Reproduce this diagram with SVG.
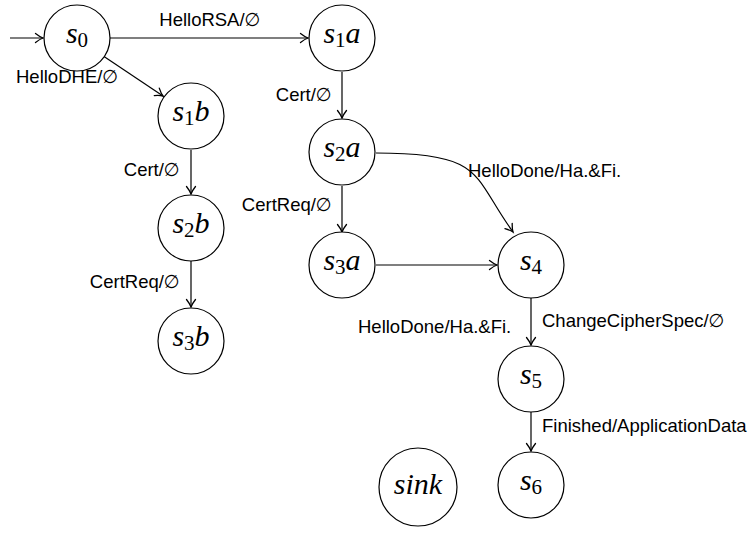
<svg xmlns="http://www.w3.org/2000/svg" width="751" height="533" viewBox="0 0 751 533">
<style>
.node circle{fill:#fff;stroke:#000;stroke-width:1.2}
.nl{font-family:"Liberation Serif","Times New Roman",serif;font-style:italic;font-size:30px;fill:#000}
.sub{font-style:normal;font-size:21px}
.edge{fill:none;stroke:#000;stroke-width:1.2;marker-end:url(#arr)}
.lbl{font-family:"Liberation Sans",Arial,"DejaVu Sans",sans-serif;font-size:18.5px;fill:#000}
</style>
<defs>
<marker id="arr" markerUnits="userSpaceOnUse" markerWidth="14" markerHeight="14" viewBox="0 0 14 14" refX="11" refY="7" orient="auto">
<path d="M3.5,2.5 Q8,6 11,7 Q8,8 3.5,11.5" fill="none" stroke="#000" stroke-width="1.3" stroke-linecap="round"/>
</marker>
</defs>
<g id="connectors">
<path class="edge" d="M10,38 L43,38"/>
<path class="edge" d="M110,38 L308,38"/>
<path class="edge" d="M104,56.5 L163,96"/>
<path class="edge" d="M342,72 L342,118"/>
<path class="edge" d="M191,150 L191,194"/>
<path class="edge" d="M191,261 L191,307"/>
<path class="edge" d="M342,186 L342,232"/>
<path class="edge" d="M376,153 C486,153 471.7,175.3 513,232"/>
<path class="edge" d="M376,265 L497,265"/>
<path class="edge" d="M531,298 L531,345"/>
<path class="edge" d="M531,412 L531,451"/>
</g>
<g id="labels">
<text class="lbl" x="210" y="26" text-anchor="middle">HelloRSA/∅</text>
<text class="lbl" x="16" y="83">HelloDHE/∅</text>
<text class="lbl" x="332" y="101" text-anchor="end">Cert/∅</text>
<text class="lbl" x="180" y="176" text-anchor="end">Cert/∅</text>
<text class="lbl" x="332" y="211" text-anchor="end">CertReq/∅</text>
<text class="lbl" x="180" y="288" text-anchor="end">CertReq/∅</text>
<text class="lbl" x="468" y="177">HelloDone/Ha.&amp;Fi.</text>
<text class="lbl" x="358" y="333">HelloDone/Ha.&amp;Fi.</text>
<text class="lbl" x="542" y="327">ChangeCipherSpec/∅</text>
<text class="lbl" x="542" y="432">Finished/ApplicationData</text>
</g>
<g id="s0" class="node"><circle cx="77" cy="38" r="33"/><text class="nl" x="77" y="43" text-anchor="middle">s<tspan class="sub" dy="4">0</tspan></text></g>
<g id="s1a" class="node"><circle cx="342" cy="38" r="33"/><text class="nl" x="342" y="43" text-anchor="middle">s<tspan class="sub" dy="4">1</tspan><tspan dy="-4">a</tspan></text></g>
<g id="s1b" class="node"><circle cx="191" cy="116" r="33"/><text class="nl" x="191" y="121" text-anchor="middle">s<tspan class="sub" dy="4">1</tspan><tspan dy="-4">b</tspan></text></g>
<g id="s2a" class="node"><circle cx="342" cy="152" r="33"/><text class="nl" x="342" y="157" text-anchor="middle">s<tspan class="sub" dy="4">2</tspan><tspan dy="-4">a</tspan></text></g>
<g id="s2b" class="node"><circle cx="191" cy="228" r="33"/><text class="nl" x="191" y="233" text-anchor="middle">s<tspan class="sub" dy="4">2</tspan><tspan dy="-4">b</tspan></text></g>
<g id="s3a" class="node"><circle cx="342" cy="265" r="33"/><text class="nl" x="342" y="270" text-anchor="middle">s<tspan class="sub" dy="4">3</tspan><tspan dy="-4">a</tspan></text></g>
<g id="s3b" class="node"><circle cx="191" cy="341" r="33"/><text class="nl" x="191" y="346" text-anchor="middle">s<tspan class="sub" dy="4">3</tspan><tspan dy="-4">b</tspan></text></g>
<g id="s4" class="node"><circle cx="531" cy="265" r="33"/><text class="nl" x="531" y="270" text-anchor="middle">s<tspan class="sub" dy="4">4</tspan></text></g>
<g id="s5" class="node"><circle cx="531" cy="379" r="33"/><text class="nl" x="531" y="384" text-anchor="middle">s<tspan class="sub" dy="4">5</tspan></text></g>
<g id="s6" class="node"><circle cx="531" cy="485" r="33"/><text class="nl" x="531" y="490" text-anchor="middle">s<tspan class="sub" dy="4">6</tspan></text></g>
<g id="sink" class="node"><circle cx="418" cy="487" r="39"/><text class="nl" x="418" y="494" text-anchor="middle">sink</text></g>
</svg>
